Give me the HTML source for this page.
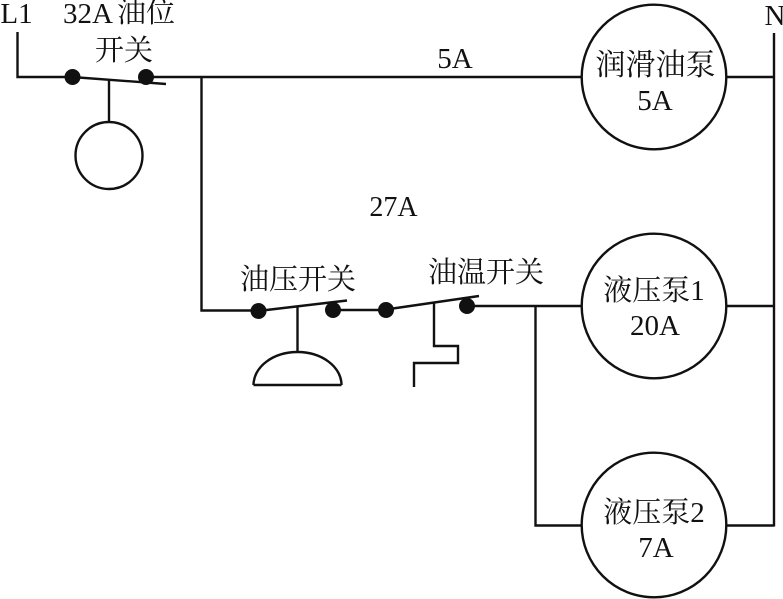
<!DOCTYPE html>
<html>
<head>
<meta charset="utf-8">
<style>
html,body{margin:0;padding:0;background:#fff}
svg{display:block}
text{font-family:"Liberation Serif","Noto Serif CJK SC",serif;font-size:29px;fill:#111;text-anchor:middle}
</style>
</head>
<body>
<svg width="783" height="599" viewBox="0 0 783 599" xmlns="http://www.w3.org/2000/svg">
<g fill="none" stroke="#111" stroke-width="2.4">
<path d="M17.5 32V77H72"/>
<path d="M72 77L166 84"/>
<path d="M146 77H582"/>
<path d="M109 80V122"/>
<circle cx="109" cy="155.5" r="33.5"/>
<path d="M201.5 77V310.5H258"/>
<path d="M258 311L347 300.5"/>
<path d="M333 310H386"/>
<path d="M386 309.5L479 296"/>
<path d="M467 306H582"/>
<path d="M297.5 306V352"/>
<path d="M253.5 385H341.5"/>
<path d="M253.5 385A44 33 0 0 1 341.5 385"/>
<path d="M434 302V346H458V363H414V387"/>
<path d="M535.5 306V525.5H582"/>
<circle cx="654" cy="77" r="72.3"/>
<circle cx="654" cy="306" r="72.3"/>
<circle cx="654" cy="525" r="72.3"/>
<path d="M726 77H774"/>
<path d="M726 306H774"/>
<path d="M726 525.5H774"/>
<path d="M774 33V526.5"/>
</g>
<g fill="#111">
<circle cx="72.5" cy="77" r="8"/>
<circle cx="146" cy="77" r="8"/>
<circle cx="258.5" cy="311" r="8"/>
<circle cx="333" cy="310" r="8"/>
<circle cx="386" cy="310" r="8"/>
<circle cx="467" cy="306" r="8"/>
</g>
<text x="16.5" y="23">L1</text>
<text x="88" y="23">32A</text>
<text x="146" y="22">油位</text>
<text x="124" y="60">开关</text>
<text x="455" y="68">5A</text>
<text x="393.5" y="216" style="font-size:28px">27A</text>
<text x="298" y="289">油压开关</text>
<text x="486" y="282">油温开关</text>
<text x="655.5" y="75" style="font-size:30px">润滑油泵</text>
<text x="655" y="110">5A</text>
<text x="654" y="300">液压泵1</text>
<text x="655" y="335">20A</text>
<text x="654" y="522">液压泵2</text>
<text x="656" y="557">7A</text>
<text x="775" y="25">N</text>
</svg>
</body>
</html>
